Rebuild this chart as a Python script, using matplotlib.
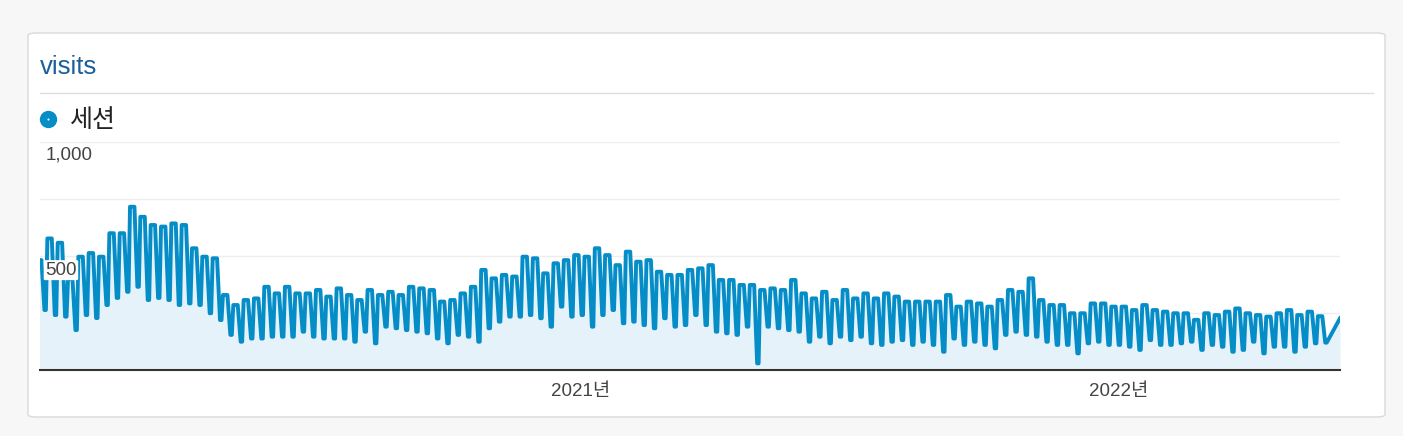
import matplotlib.pyplot as plt
from matplotlib.patches import FancyBboxPatch
import pandas as pd

plt.rcParams['font.family'] = ['Liberation Sans', 'Noto Sans CJK KR', 'DejaVu Sans']

# weekly weekday level and weekend level of sessions
week_high = [482, 577, 558, 400, 497, 513, 497, 600, 600, 716,
             672, 636, 629, 643, 636, 534, 497, 490, 329, 285,
             307, 314, 365, 336, 365, 336, 336, 351, 322, 358,
             329, 307, 351, 329, 343, 329, 365, 358, 351, 300,
             307, 336, 365, 439, 402, 417, 410, 497, 490, 424,
             468, 482, 504, 497, 534, 504, 460, 519, 475, 482,
             431, 417, 417, 439, 446, 460, 395, 395, 373, 373,
             351, 358, 351, 395, 336, 314, 343, 307, 351, 314,
             336, 314, 336, 322, 300, 300, 300, 300, 329, 278,
             300, 292, 278, 307, 351, 343, 402, 307, 285, 285,
             249, 249, 292, 292, 278, 278, 263, 285, 263, 256,
             249, 249, 220, 249, 241, 256, 270, 249, 241, 234,
             249, 263, 241, 256, 236]
week_low = [263, 241, 234, 175, 241, 228, 285, 316, 343, 365,
            307, 316, 307, 285, 292, 285, 249, 219, 154, 124,
            138, 138, 146, 146, 146, 168, 146, 138, 138, 138,
            124, 168, 117, 190, 183, 175, 168, 161, 138, 117,
            154, 146, 124, 183, 212, 234, 234, 241, 227, 190,
            278, 234, 241, 190, 241, 263, 205, 212, 197, 183,
            227, 190, 197, 241, 197, 168, 161, 154, 190, 29,
            190, 183, 175, 168, 124, 146, 117, 146, 131, 146,
            117, 110, 124, 131, 110, 124, 110, 80, 138, 110,
            124, 110, 95, 154, 168, 154, 146, 124, 110, 110,
            73, 117, 124, 110, 110, 102, 88, 131, 110, 110,
            117, 124, 88, 110, 102, 80, 88, 124, 73, 102,
            102, 80, 102, 117, 120]
last_value = 227

start = pd.Timestamp('2020-01-01')
end = pd.Timestamp('2022-05-31')
first_monday = pd.Timestamp('2019-12-30')

# Mon..Thu at the weekday level, Sat/Sun at the weekend level
dates, values = [], []
for i, (h, l) in enumerate(zip(week_high, week_low)):
    d = first_monday + pd.Timedelta(days=7 * i)
    dates += [d, d + pd.Timedelta(days=3), d + pd.Timedelta(days=5), d + pd.Timedelta(days=6)]
    values += [h, h, l, l]
dates.append(end)
values.append(last_value)

W, H = 1403, 436
fig = plt.figure(figsize=(W / 100, H / 100), dpi=100)
fig.patch.set_facecolor('#f7f7f7')

def fx(px):
    return px / W

def fy(py):
    return 1 - py / H

# card
card = FancyBboxPatch((fx(28), fy(417)), fx(1385) - fx(28), fy(33) - fy(417),
                      boxstyle='round,pad=0,rounding_size=0.006',
                      transform=fig.transFigure, facecolor='white',
                      edgecolor='#d9d9d9', linewidth=1, zorder=-10)
fig.patches.append(card)

fig.text(fx(40), fy(67), 'visits', color='#1a5f9c', fontsize=18.5, va='center', ha='left')
fig.add_artist(plt.Line2D([fx(40), fx(1373)], [fy(93), fy(93)],
                          transform=fig.transFigure, color='#dddddd', lw=1))

# legend
fig.add_artist(plt.Line2D([fx(48)], [fy(119)], transform=fig.transFigure, marker='o',
                          markersize=12.5, markerfacecolor='#058dc7', markeredgecolor='none'))
fig.add_artist(plt.Line2D([fx(48)], [fy(119)], transform=fig.transFigure, marker='o',
                          markersize=1.5, markerfacecolor='white', markeredgecolor='none'))
fig.text(fx(70), fy(120), '세션', fontsize=18, va='center', ha='left', color='#222222')

ax = fig.add_axes([fx(40), fy(370), fx(1340) - fx(40), fy(142) - fy(370)])
ax.set_facecolor('none')
ax.fill_between(dates, values, 0, color='#e6f2f9', lw=0)
ax.plot(dates, values, color='#058dc7', lw=2.8, solid_joinstyle='round')
ax.set_xlim(start, end)
ax.set_ylim(0, 1000)

for v in [250, 500, 750, 1000]:
    ax.axhline(v, color='#eeeeee', lw=1, zorder=0)

for s in ['top', 'right', 'left']:
    ax.spines[s].set_visible(False)
ax.spines['bottom'].set_color('#333333')
ax.spines['bottom'].set_linewidth(1.5)

ax.set_yticks([])
ax.set_xticks([pd.Timestamp('2021-01-01'), pd.Timestamp('2022-01-01')])
ax.set_xticklabels(['2021년', '2022년'], fontsize=13.5, color='#444444')
ax.tick_params(axis='x', length=0, pad=9)

ax.text(0.004, 943, '1,000', transform=ax.get_yaxis_transform(), va='center', ha='left',
        fontsize=13.5, color='#444444')
ax.text(0.004, 438, '500', transform=ax.get_yaxis_transform(), va='center', ha='left',
        fontsize=13.5, color='#444444', zorder=5,
        bbox=dict(boxstyle='round,pad=0.08', facecolor='white', edgecolor='none'))

fig.savefig('out.png', dpi=100, facecolor=fig.get_facecolor())
